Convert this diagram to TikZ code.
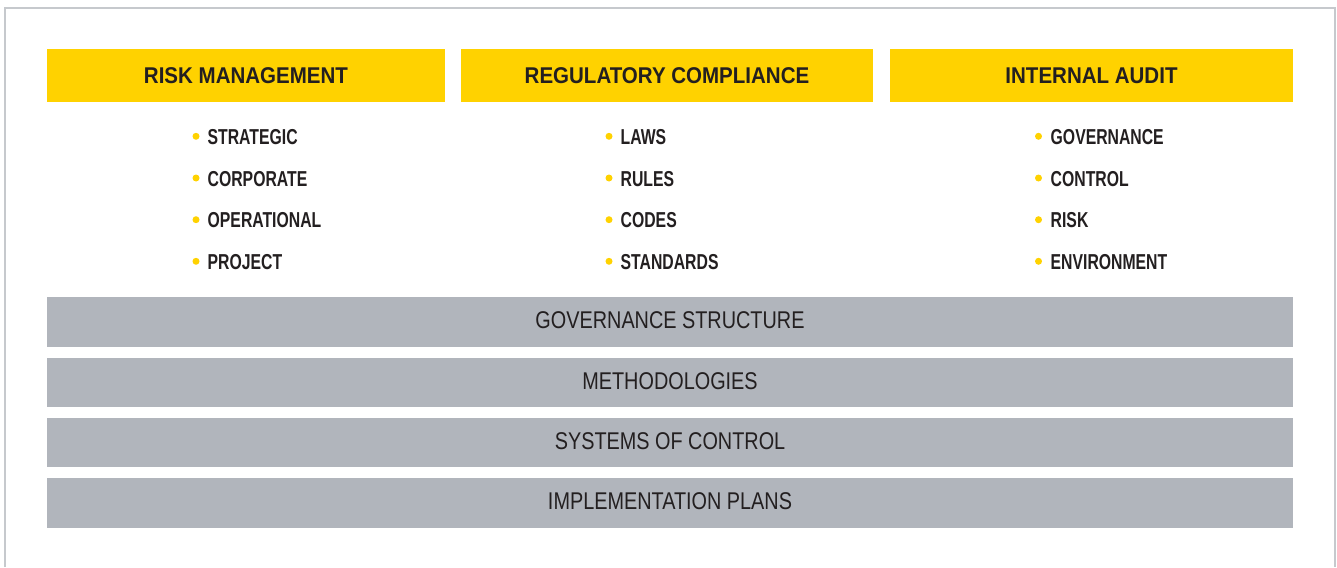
\documentclass[tikz,border=0pt]{standalone}
\usepackage{fontspec}
\setmainfont{Liberation Sans}
\newfontfamily\hdrfont[FakeStretch=0.9]{Liberation Sans}
\newfontfamily\itemfont[FakeStretch=0.73]{Liberation Sans}
\newfontfamily\barfont[FakeStretch=0.82]{Liberation Sans}
\definecolor{ybox}{HTML}{FFD200}
\definecolor{gbar}{HTML}{B1B5BC}
\definecolor{ink}{HTML}{231F20}
\definecolor{framecol}{HTML}{C6C9CD}
\tikzset{
  hdrbox/.style={fill=ybox, draw=none},
  barbox/.style={fill=gbar, draw=none},
  hdrtext/.style={anchor=base, inner sep=0pt, text=ink, font=\hdrfont\bfseries\fontsize{22.8}{24}\selectfont},
  itemtext/.style={anchor=base west, inner sep=0pt, text=ink, font=\itemfont\bfseries\fontsize{21.6}{24}\selectfont},
  bartext/.style={anchor=base, inner sep=0pt, text=ink, font=\barfont\fontsize{24.2}{26}\selectfont},
  dot/.style={circle, fill=ybox, draw=none, inner sep=0pt, minimum size=7pt}
}
\begin{document}
\begin{tikzpicture}[x=1pt,y=-1pt]
\useasboundingbox (0,0) rectangle (1337,567);
\fill[white] (0,0) rectangle (1337,567);
\draw[framecol, line width=1.5pt] (5,567) -- (5,8) -- (1335,8) -- (1335,567);
% header boxes
\fill[hdrbox] (47,49) rectangle (445,102);
\fill[hdrbox] (461,49) rectangle (873,102);
\fill[hdrbox] (890,49) rectangle (1293,102);
\node[hdrtext] (h1) at (246,84) {RISK MANAGEMENT};
\node[hdrtext] (h2) at (667,84) {REGULATORY COMPLIANCE};
\node[hdrtext] (h3) at (1091.5,84) {INTERNAL AUDIT};
% column 1
\foreach \t/\y/\n in {STRATEGIC/144.3/a, CORPORATE/186/b, OPERATIONAL/227.7/c, PROJECT/269.3/d}{
  \node[dot] (d1\n) at (196,\y-8) {};
  \node[itemtext] (i1\n) at (207.5,\y) {\t};
}
\foreach \t/\y/\n in {LAWS/144.3/a, RULES/186/b, CODES/227.7/c, STANDARDS/269.3/d}{
  \node[dot] (d2\n) at (609,\y-8) {};
  \node[itemtext] (i2\n) at (620.5,\y) {\t};
}
\foreach \t/\y/\n in {GOVERNANCE/144.3/a, CONTROL/186/b, RISK/227.7/c, ENVIRONMENT/269.3/d}{
  \node[dot] (d3\n) at (1038.5,\y-8) {};
  \node[itemtext] (i3\n) at (1050.5,\y) {\t};
}
% gray bars
\fill[barbox] (47,297) rectangle (1293,347);
\fill[barbox] (47,358) rectangle (1293,407);
\fill[barbox] (47,418) rectangle (1293,467);
\fill[barbox] (47,478) rectangle (1293,528);
\node[bartext] (b1) at (670,328.5) {GOVERNANCE STRUCTURE};
\node[bartext] (b2) at (670,389.5) {METHODOLOGIES};
\node[bartext] (b3) at (670,449.5) {SYSTEMS OF CONTROL};
\node[bartext] (b4) at (670,509.5) {IMPLEMENTATION PLANS};
\end{tikzpicture}
\end{document}
